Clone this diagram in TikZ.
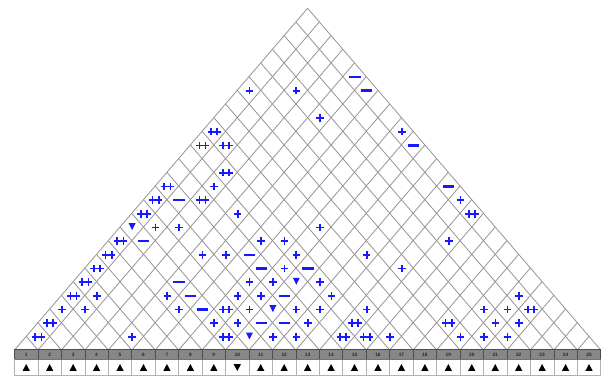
\documentclass[tikz,border=0pt]{standalone}
\usepackage{fontspec}
\setmainfont{Liberation Sans}
\definecolor{symblue}{RGB}{25,25,255}
\begin{document}
\begin{tikzpicture}[x=1pt,y=-1pt,
  gridline/.style={draw=black!42, line width=0.8pt},
  sym/.style={draw=symblue, line width=1.7pt},
  hdrtxt/.style={font=\fontsize{4.8}{5}\selectfont\bfseries, text=black!85, inner sep=0pt},
  symplus/.pic={\draw[sym] (-3.8,0)--(3.8,0) (0,-3.8)--(0,3.8);},
  symdplus/.pic={\draw[sym] (-6.7,0)--(6.7,0) (-3.1,-3.8)--(-3.1,3.8) (3.1,-3.8)--(3.1,3.8);},
  symminus/.pic={\draw[symblue, line width=2.4pt] (-5.6,0)--(5.6,0);},
  symtri/.pic={\fill[symblue] (-3.5,-3.8)--(3.5,-3.8)--(0,3.1)--cycle;}
]
\useasboundingbox (0,0) rectangle (601,376);
\def\pz{14.5}\def\dd{23.45}\def\hd{11.725}\def\bs{350}\def\hh{13.67}
% grid
\foreach \k in {0,...,25} {
  \draw[gridline] ({\pz+\k*\dd},\bs) -- ({\pz+\hd*(\k+25)},{\bs-(25-\k)*\hh});
  \draw[gridline] ({\pz+\k*\dd},\bs) -- ({\pz+\hd*\k},{\bs-\k*\hh});
}
% symbols
\foreach \i/\j in {1/20,3/22,5/22,9/25,3/15,14/25,5/15,2/11,3/12,9/18,7/15,8/16,15/23,5/12,6/13,9/16,12/19,9/15,14/20,8/13,9/14,11/16,2/6,5/9,8/12,9/13,12/16,20/24,1/4,2/5,6/9,9/12,11/14,12/15,14/17,19/22,20/23,8/10,9/11,12/14,20/22,21/23,5/6,11/12,12/13,16/17,19/20,20/21,21/22}
  \pic at ({\pz+\hd*(\i+\j-1)+0.4},{\bs-\hh*(\j-\i)+0.4}) {symplus};
\foreach \i/\j in {1/17,1/16,2/17,3/16,1/13,3/14,1/12,1/11,15/25,1/9,1/8,1/7,1/6,1/5,8/11,21/24,1/3,14/16,18/20,1/2,9/10,14/15,15/16}
  \pic at ({\pz+\hd*(\i+\j-1)+0.4},{\bs-\hh*(\j-\i)+0.4}) {symdplus};
\foreach \i/\j in {5/25,6/25,10/25,13/25,2/13,2/10,7/14,8/14,10/16,5/10,6/10,10/14,7/10,10/12,11/13}
  \pic at ({\pz+\hd*(\i+\j-1)+0.4},{\bs-\hh*(\j-\i)+0.4}) {symminus};
\foreach \i/\j in {1/10,10/15,10/13,10/11}
  \pic at ({\pz+\hd*(\i+\j-1)+0.4},{\bs-\hh*(\j-\i)}) {symtri};
% table
\fill[white] (\pz,359.3) rectangle (601,376);
\fill[black!47] (\pz,349.3) rectangle (601,359.3);
\foreach \k in {0,...,25} {
  \draw[black!70, line width=0.7pt] ({\pz+\k*\dd},349.3) -- ({\pz+\k*\dd},359.3);
  \draw[black!30, line width=0.7pt] ({\pz+\k*\dd},359.3) -- ({\pz+\k*\dd},376);
}
\draw[black!70, line width=1pt] (\pz,349.3) -- (601,349.3);
\draw[black!55, line width=0.6pt] (\pz,359.3) -- (601,359.3);
\draw[black!30, line width=0.6pt] (\pz,375.6) -- (601,375.6);
\foreach \k in {1,...,25} {
  \pgfmathsetmacro\cx{\pz+\dd*(\k-0.5)}
  \node[hdrtxt] (n\k) at (\cx,354.5) {\k};
  \coordinate (m\k) at (\cx,367.6);
}
\foreach \k in {1,...,9,11,12,...,25}
  \fill (m\k) ++(-3.6,3.2) -- ++(7.2,0) -- ++(-3.6,-6.8) -- cycle;
\fill (m10) ++(-3.6,-3.4) -- ++(7.2,0) -- ++(-3.6,6.8) -- cycle;
\end{tikzpicture}
\end{document}
